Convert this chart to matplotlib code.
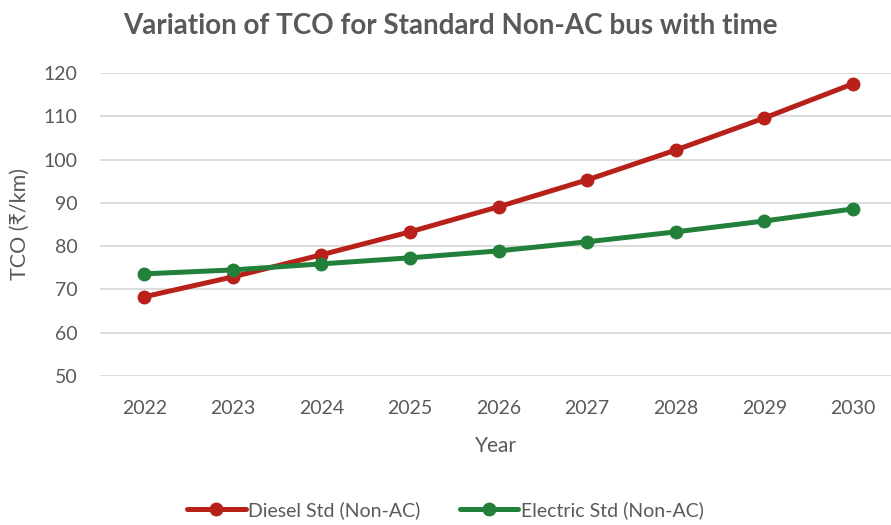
import matplotlib
matplotlib.use('Agg')
import matplotlib.pyplot as plt

plt.rcParams['font.family'] = ['Lato', 'DejaVu Sans']

years = [2022, 2023, 2024, 2025, 2026, 2027, 2028, 2029, 2030]
diesel = [68.3, 72.9, 78.0, 83.3, 89.1, 95.3, 102.2, 109.6, 117.5]
electric = [73.6, 74.5, 75.9, 77.3, 78.9, 81.0, 83.3, 85.8, 88.6]
yticks = [50, 60, 70, 80, 90, 100, 110, 120]

text_grey = '#595959'
red = '#B8201A'
green = '#23803A'

fig = plt.figure(figsize=(8.91, 5.25), dpi=100)
ax = fig.add_axes([0.1122, 0.2838, 0.8878, 0.5772])

ax.plot(years, diesel, color=red, lw=3.6, marker='o', ms=9,
        label='Diesel Std (Non-AC)', solid_capstyle='round')
ax.plot(years, electric, color=green, lw=3.6, marker='o', ms=9,
        label='Electric Std (Non-AC)', solid_capstyle='round')

ax.set_xlim(2021.5, 2030.43)
ax.set_ylim(50, 120)
ax.set_yticks(yticks)
ax.set_xticks(years)
ax.grid(axis='y', color='#D9D9D9', lw=1.3)
ax.set_axisbelow(True)
for s in ax.spines.values():
    s.set_visible(False)
ax.tick_params(length=0, labelsize=14, colors=text_grey)
ax.tick_params(axis='x', pad=17)
ax.tick_params(axis='y', pad=16)

ax.set_xlabel('Year', fontsize=15, color=text_grey, labelpad=14)
ax.set_ylabel('TCO (₹/km)', fontsize=15.5, color=text_grey, labelpad=10)

fig.suptitle('Variation of TCO for Standard Non-AC bus with time',
             x=0.505, y=0.975, fontsize=20, fontweight='bold', color=text_grey)

leg = fig.legend(loc='lower center', bbox_to_anchor=(0.5, -0.022), ncol=2,
                 frameon=False, fontsize=14, handlelength=3.0,
                 handletextpad=0.15, columnspacing=2.0)
for t in leg.get_texts():
    t.set_color(text_grey)

plt.savefig('out.png', dpi=100)
